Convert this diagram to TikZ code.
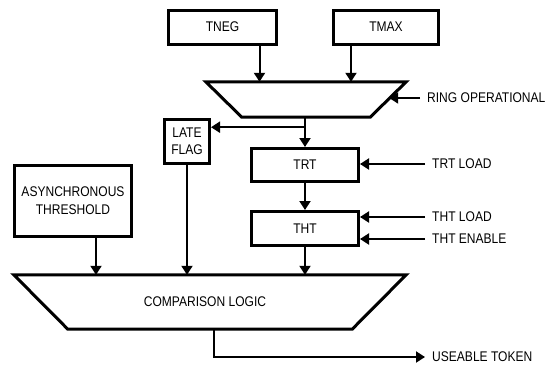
\documentclass[tikz,border=0pt]{standalone}
\usepackage{fontspec}
\setmainfont{Liberation Sans}[FakeStretch=0.86]
\usetikzlibrary{arrows.meta}

\begin{document}
\begin{tikzpicture}[x=1pt, y=-1pt,
    font=\fontsize{14}{17}\selectfont,
    blk/.style 2 args={draw, line width=3pt, minimum width=#1, minimum height=#2, inner sep=0pt, align=center},
    funnel/.style 2 args={minimum width=#1, minimum height=#2, inner sep=0pt},
    edge/.style={line width=3pt, line join=miter},
    arr/.style={-{Triangle[length=9pt,width=11pt]}, line width=2pt},
    lbl/.style={anchor=west, inner xsep=7pt, inner ysep=0pt}]
    \useasboundingbox (0,0) rectangle (552,367);
    \node[blk={108}{34}] (tneg) at (222.5,27) {TNEG};
    \node[blk={105}{34}] (tmax) at (386,27) {TMAX};
    \node[funnel={200}{35}] (mux) at (306,99.5) {};
    \draw[edge] (mux.north west) -- (mux.north east) -- ([xshift=-36pt]mux.south east)
        -- ([xshift=36pt]mux.south west) -- cycle;
    \node[blk={45}{44}] (late) at (187,141.5) {LATE\\FLAG};
    \node[blk={107}{33}] (trt) at (305,165) {TRT};
    \node[blk={107}{34}] (tht) at (305,228.5) {THT};
    \node[blk={117}{71}, font=\fontsize{14}{18}\selectfont] (async) at (73,201) {ASYNCHRONOUS\\THRESHOLD};
    \node[funnel={392}{54}] (cmp) at (210,302) {};
    \draw[edge] (cmp.north west) -- (cmp.north east) -- ([xshift=-54pt]cmp.south east)
        -- ([xshift=54pt]cmp.south west) -- cycle;
    \node (cmptext) at (205,302) {COMPARISON LOGIC};
    \node[lbl] (ring) at (420,98) {RING OPERATIONAL};
    \node[lbl] (trtload) at (425,164) {TRT LOAD};
    \node[lbl] (thtload) at (425,217) {THT LOAD};
    \node[lbl] (thten) at (425,239) {THT ENABLE};
    \node[lbl] (token) at (425,357) {USEABLE TOKEN};
    \coordinate (split) at ([yshift=-10pt]mux.south);
    \draw[arr] ([xshift=37pt]tneg.south) -- ([xshift=37pt]tneg.south |- mux.north);
    \draw[arr] ([xshift=-35pt]tmax.south) -- ([xshift=-35pt]tmax.south |- mux.north);
    \draw[arr] (ring.west) -- ([xshift=-17pt]ring.west -| mux.east);
    \draw[arr] (mux.south -| trt.north) -- (trt.north);
    \draw[arr] (split -| trt.north) -- (split -| late.east);
    \draw[arr] (trtload.west) -- (trtload.west -| trt.east);
    \draw[arr] (trt.south) -- (tht.north);
    \draw[arr] (thtload.west) -- (thtload.west -| tht.east);
    \draw[arr] (thten.west) -- (thten.west -| tht.east);
    \draw[arr] (tht.south) -- (tht.south |- cmp.north);
    \draw[arr] (late.south) -- (late.south |- cmp.north);
    \draw[arr] ([xshift=23pt]async.south) -- ([xshift=23pt]async.south |- cmp.north);
    \draw[arr] ([xshift=4pt]cmp.south) |- (token.west);
\end{tikzpicture}
\end{document}
